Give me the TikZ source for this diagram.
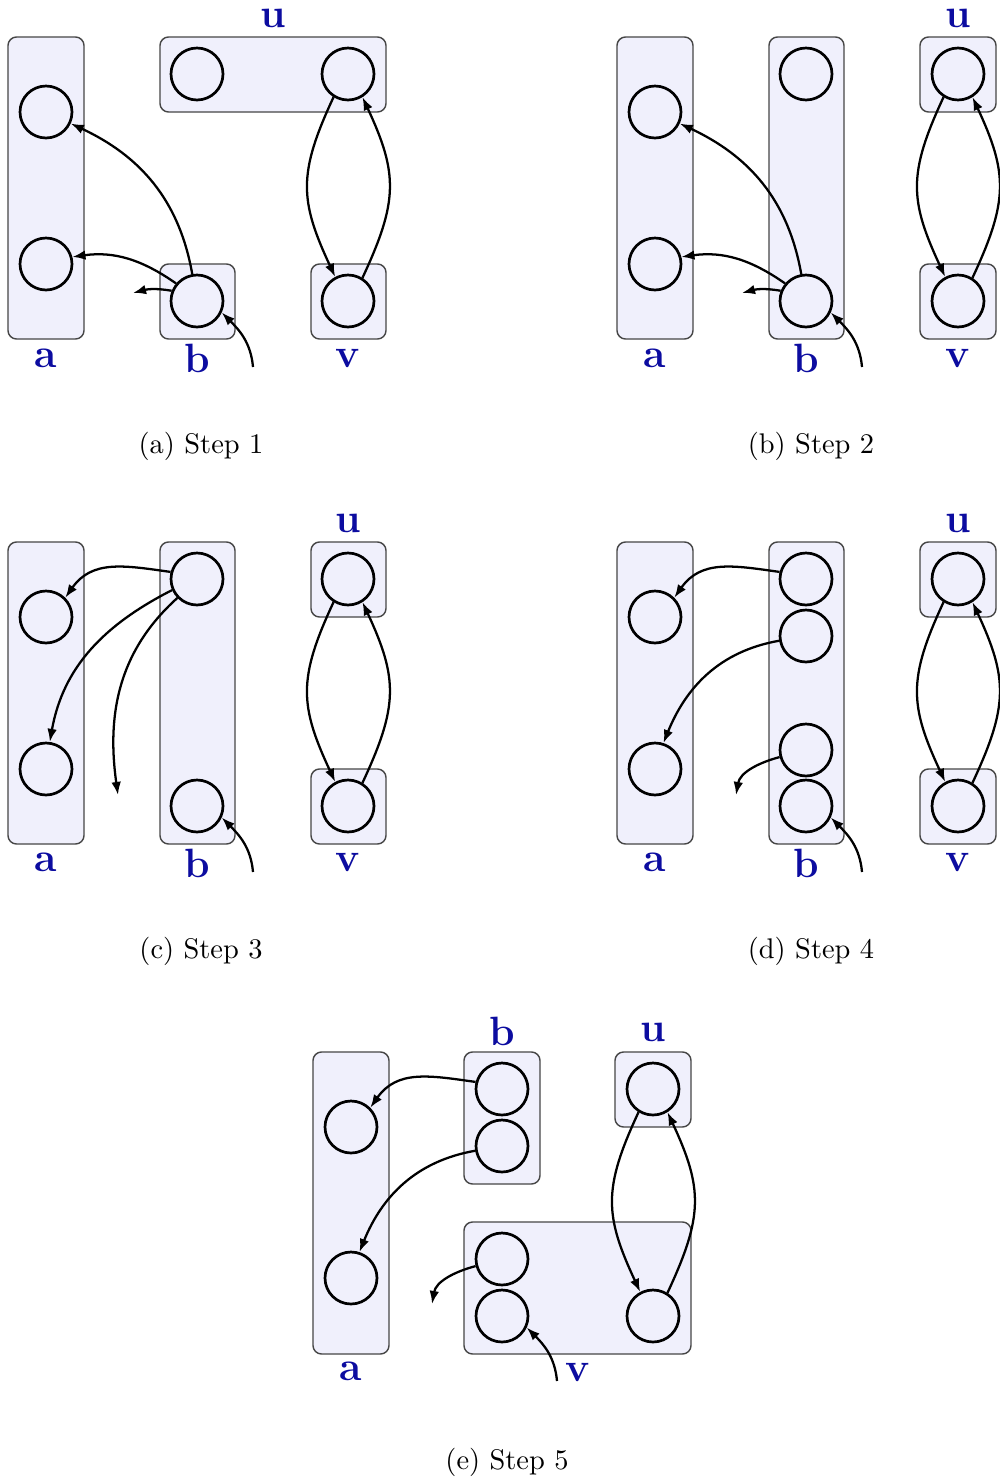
\documentclass[tikz,border=0pt]{standalone}
\usetikzlibrary{arrows.meta}
\definecolor{boxfill}{RGB}{240,240,252}
\definecolor{boxline}{RGB}{70,70,70}
\definecolor{lblue}{RGB}{12,12,160}
\begin{document}
\begin{tikzpicture}[x=0.352pt,y=-0.352pt,
  grp/.style={fill=boxfill,draw=boxline,line width=0.5pt,rounded corners=3pt},
  vx/.style={circle,draw,line width=0.95pt,minimum size=18.3pt,inner sep=0pt},
  lbl/.style={text=lblue,font=\Large\bfseries,anchor=base,inner sep=0pt},
  captxt/.style={font=\normalsize,anchor=base,inner sep=0pt},
  arr/.style={-{Latex[length=4.6pt,width=3.4pt]},line width=0.8pt},
]
\path[use as bounding box,fill=white] (0,0) rectangle (999,1479);

% ---------------- (a) ----------------
\path[grp] (8,37) rectangle (84,339);
\path[grp] (160,37) rectangle (386,112);
\path[grp] (160,264) rectangle (235,339);
\path[grp] (311,264) rectangle (386,339);
\node[vx] (A-a1) at (46,112) {};
\node[vx] (A-a2) at (46,264) {};
\node[vx] (A-u1) at (197,74) {};
\node[vx] (A-u2) at (348,74) {};
\node[vx] (A-b1) at (197,301) {};
\node[vx] (A-v1) at (348,301) {};
\node[lbl] (A-lu) at (273,28) {u};
\node[lbl] (A-la) at (46,367) {a};
\node[lbl] (A-lb) at (197,372) {b};
\node[lbl] (A-lv) at (348,367) {v};
\coordinate (A-f1) at (133,293);
\coordinate (A-f2) at (253,367);
\draw[arr] (A-b1.100) to[out=100,in=-25] (A-a1.-25);
\draw[arr] (A-b1.140) to[out=145,in=8] (A-a2.15);
\draw[arr] (A-b1.158) to[out=170,in=15] (A-f1);
\draw[arr] (A-f2) to[out=95,in=-45] (A-b1.-25);
\draw[arr] (A-u2.238) to[out=245,in=115,looseness=1.2] (A-v1.118);
\draw[arr] (A-v1.58) to[out=65,in=-65,looseness=1.2] (A-u2.-58);
\node[captxt] (A-cap) at (201,453) {(a) Step 1};

% ---------------- (b) ----------------
\path[grp] (617,37) rectangle (693,339);
\path[grp] (769,37) rectangle (844,339);
\path[grp] (920,37) rectangle (996,112);
\path[grp] (920,264) rectangle (996,339);
\node[vx] (B-a1) at (655,112) {};
\node[vx] (B-a2) at (655,264) {};
\node[vx] (B-b1) at (806,74) {};
\node[vx] (B-b2) at (806,301) {};
\node[vx] (B-u1) at (958,74) {};
\node[vx] (B-v1) at (958,301) {};
\node[lbl] (B-lu) at (958,28) {u};
\node[lbl] (B-la) at (655,367) {a};
\node[lbl] (B-lb) at (806,372) {b};
\node[lbl] (B-lv) at (958,367) {v};
\coordinate (B-f1) at (742,293);
\coordinate (B-f2) at (862,367);
\draw[arr] (B-b2.100) to[out=100,in=-25] (B-a1.-25);
\draw[arr] (B-b2.140) to[out=145,in=8] (B-a2.15);
\draw[arr] (B-b2.158) to[out=170,in=15] (B-f1);
\draw[arr] (B-f2) to[out=95,in=-45] (B-b2.-25);
\draw[arr] (B-u1.238) to[out=245,in=115,looseness=1.2] (B-v1.118);
\draw[arr] (B-v1.58) to[out=65,in=-65,looseness=1.2] (B-u1.-58);
\node[captxt] (B-cap) at (811,453) {(b) Step 2};

% ---------------- (c) ----------------
\path[grp] (8,542) rectangle (84,844);
\path[grp] (160,542) rectangle (235,844);
\path[grp] (311,542) rectangle (386,617);
\path[grp] (311,769) rectangle (386,844);
\node[vx] (C-a1) at (46,617) {};
\node[vx] (C-a2) at (46,769) {};
\node[vx] (C-b1) at (197,579) {};
\node[vx] (C-b2) at (197,806) {};
\node[vx] (C-u1) at (348,579) {};
\node[vx] (C-v1) at (348,806) {};
\node[lbl] (C-lu) at (348,532) {u};
\node[lbl] (C-la) at (46,871) {a};
\node[lbl] (C-lb) at (197,877) {b};
\node[lbl] (C-lv) at (348,871) {v};
\coordinate (C-f1) at (118,795);
\coordinate (C-f2) at (253,872);
\draw[arr] (C-b1.165) to[out=172,in=55,looseness=1.1] (C-a1.45);
\draw[arr] (C-b1.204) to[out=207,in=80] (C-a2.82);
\draw[arr] (C-b1.224) to[out=222,in=98] (C-f1);
\draw[arr] (C-f2) to[out=95,in=-45] (C-b2.-25);
\draw[arr] (C-u1.238) to[out=245,in=115,looseness=1.2] (C-v1.118);
\draw[arr] (C-v1.58) to[out=65,in=-65,looseness=1.2] (C-u1.-58);
\node[captxt] (C-cap) at (201,958) {(c) Step 3};

% ---------------- (d) ----------------
\path[grp] (617,542) rectangle (693,844);
\path[grp] (769,542) rectangle (844,844);
\path[grp] (920,542) rectangle (996,617);
\path[grp] (920,769) rectangle (996,844);
\node[vx] (D-a1) at (655,617) {};
\node[vx] (D-a2) at (655,769) {};
\node[vx] (D-b1) at (806,579) {};
\node[vx] (D-b2) at (806,636) {};
\node[vx] (D-b3) at (806,750) {};
\node[vx] (D-b4) at (806,806) {};
\node[vx] (D-u1) at (958,579) {};
\node[vx] (D-v1) at (958,806) {};
\node[lbl] (D-lu) at (958,532) {u};
\node[lbl] (D-la) at (655,871) {a};
\node[lbl] (D-lb) at (806,877) {b};
\node[lbl] (D-lv) at (958,871) {v};
\coordinate (D-f1) at (736,795);
\coordinate (D-f2) at (862,872);
\draw[arr] (D-b1.165) to[out=172,in=55,looseness=1.1] (D-a1.45);
\draw[arr] (D-b2.190) to[out=190,in=68] (D-a2.72);
\draw[arr] (D-b3.195) to[out=195,in=80] (D-f1);
\draw[arr] (D-f2) to[out=95,in=-45] (D-b4.-25);
\draw[arr] (D-u1.238) to[out=245,in=115,looseness=1.2] (D-v1.118);
\draw[arr] (D-v1.58) to[out=65,in=-65,looseness=1.2] (D-u1.-58);
\node[captxt] (D-cap) at (811,958) {(d) Step 4};

% ---------------- (e) ----------------
\path[grp] (313,1052) rectangle (389,1354);
\path[grp] (464,1052) rectangle (540,1184);
\path[grp] (615,1052) rectangle (691,1127);
\path[grp] (464,1222) rectangle (691,1354);
\node[vx] (E-a1) at (351,1127) {};
\node[vx] (E-a2) at (351,1278) {};
\node[vx] (E-b1) at (502,1089) {};
\node[vx] (E-b2) at (502,1146) {};
\node[vx] (E-u1) at (653,1089) {};
\node[vx] (E-v1) at (502,1259) {};
\node[vx] (E-v2) at (502,1316) {};
\node[vx] (E-v3) at (653,1316) {};
\node[lbl] (E-lb) at (502,1045) {b};
\node[lbl] (E-lu) at (653,1041) {u};
\node[lbl] (E-la) at (351,1380) {a};
\node[lbl] (E-lv) at (578,1381) {v};
\coordinate (E-f1) at (432,1304);
\coordinate (E-f2) at (557,1381);
\draw[arr] (E-b1.165) to[out=172,in=55,looseness=1.1] (E-a1.45);
\draw[arr] (E-b2.190) to[out=190,in=68] (E-a2.72);
\draw[arr] (E-v1.195) to[out=195,in=80] (E-f1);
\draw[arr] (E-f2) to[out=95,in=-45] (E-v2.-25);
\draw[arr] (E-u1.238) to[out=245,in=115,looseness=1.2] (E-v3.118);
\draw[arr] (E-v3.58) to[out=65,in=-65,looseness=1.2] (E-u1.-58);
\node[captxt] (E-cap) at (507,1469) {(e) Step 5};
\end{tikzpicture}
\end{document}
